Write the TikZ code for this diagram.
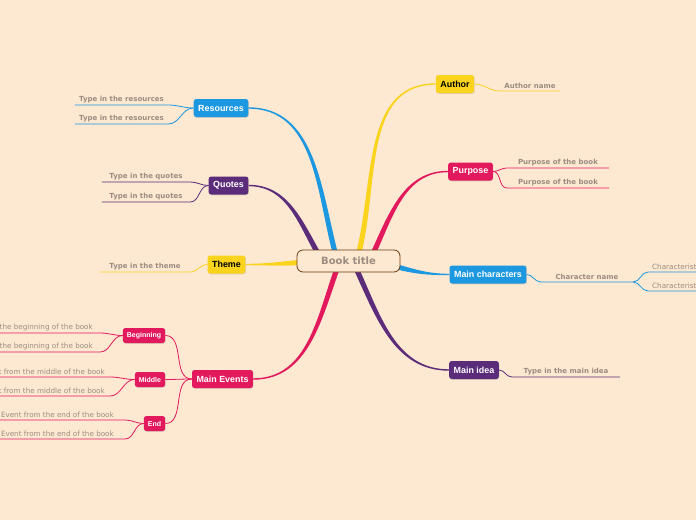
\documentclass[tikz,border=0pt]{standalone}
\usepackage{fontspec}
\setmainfont{Liberation Sans}
\newfontfamily\leaffont{DejaVu Sans}
\usetikzlibrary{positioning,shadows}
\pgfdeclarelayer{background}
\pgfsetlayers{background,main}

\definecolor{bgpeach}{HTML}{FDE8D1}
\definecolor{yellowc}{HTML}{F9D31C}
\definecolor{crimson}{HTML}{E2195D}
\definecolor{bluec}{HTML}{1B98E0}
\definecolor{purplec}{HTML}{5B2C7A}
\definecolor{leafgray}{HTML}{9C8B80}
\definecolor{titlebrown}{HTML}{6B3A0E}

% tapered main branch: colour, start, out angle, end, in angle
\newcommand\branch[5]{%
  \fill[#1] ([shift={(#3+90:2.6pt)}]#2) to[out=#3,in=#5] ([shift={(#5-90:0.7pt)}]#4)
    -- ([shift={(#5+90:0.7pt)}]#4) to[out=#5,in=#3] ([shift={(#3-90:2.6pt)}]#2) -- cycle;}

\begin{document}
\begin{tikzpicture}[x=1pt, y=-1pt,
    topic/.style={
        rounded corners=2.5pt, inner xsep=4.5pt, inner ysep=0pt,
        minimum height=18pt, text=white,
        font=\bfseries\fontsize{8.9}{10}\selectfont,
        drop shadow={opacity=0.25, shadow xshift=0.6pt, shadow yshift=-0.8pt}
    },
    subtopic/.style={topic, minimum height=15pt, inner xsep=4pt,
        font=\bfseries\fontsize{7}{8}\selectfont},
    leaf/.style={anchor=south, inner xsep=0pt, inner ysep=2pt, text=leafgray,
        font=\leaffont\bfseries\fontsize{7}{8}\selectfont},
    event/.style={leaf, font=\leaffont\fontsize{7.2}{8}\selectfont},
    link/.style={line width=0.8pt}
]
    \useasboundingbox (0,0) rectangle (696,520);
    \begin{pgfonlayer}{background}
        \fill[bgpeach] (0,0) rectangle (696,520);
    \end{pgfonlayer}

    \node[draw=titlebrown, fill=bgpeach, rounded corners=6pt, line width=0.8pt,
        minimum width=103pt, minimum height=22pt, text=leafgray,
        font=\leaffont\bfseries\fontsize{10}{11}\selectfont] (title) at (348.5,261) {Book title};

    % topics
    \node[topic, fill=yellowc, text=black] (author) at (455,84) {Author};
    \node[topic, fill=crimson] (purpose) at (470.5,171.5) {Purpose};
    \node[topic, fill=bluec] (chars) at (488,274.5) {Main characters};
    \node[topic, fill=purplec] (idea) at (474,370) {Main idea};
    \node[topic, fill=bluec] (res) at (221,108) {Resources};
    \node[topic, fill=purplec] (quotes) at (228.5,185.5) {Quotes};
    \node[topic, fill=yellowc, text=black] (theme) at (226.5,264.5) {Theme};
    \node[topic, fill=crimson] (events) at (222.5,379) {Main Events};
    \node[subtopic, fill=crimson] (begin) at (144,335.5) {Beginning};
    \node[subtopic, fill=crimson] (middle) at (150,379.5) {Middle};
    \node[subtopic, fill=crimson] (endev) at (154.5,423.5) {End};

    % start points on the title
    \coordinate (sres) at ([xshift=-12.5pt, yshift=5pt]title.center);
    \coordinate (squo) at ([xshift=-28.5pt, yshift=4pt]title.center);
    \coordinate (sthe) at ([xshift=-43.5pt, yshift=-1pt]title.center);
    \coordinate (sev) at ([xshift=-10.5pt, yshift=-5pt]title.center);
    \coordinate (sauth) at ([xshift=9.5pt, yshift=5pt]title.center);
    \coordinate (spur) at ([xshift=23.5pt, yshift=5pt]title.center);
    \coordinate (schar) at ([xshift=41.5pt, yshift=-4pt]title.center);
    \coordinate (sidea) at ([xshift=6.5pt, yshift=-5pt]title.center);

    \begin{pgfonlayer}{background}
        \branch{bluec}{sres}{105}{res.east}{0}
        \branch{purplec}{squo}{120}{quotes.east}{0}
        \branch{yellowc}{sthe}{185}{theme.east}{0}
        \branch{crimson}{sev}{250}{events.east}{0}
        \branch{yellowc}{sauth}{75}{author.west}{180}
        \branch{crimson}{spur}{65}{purpose.west}{180}
        \branch{bluec}{schar}{-15}{chars.west}{180}
        \branch{purplec}{sidea}{-65}{idea.west}{180}
    \end{pgfonlayer}

    % leaves
    \node[leaf, minimum width=93pt] (res1) at (121.5,105) {Type in the resources};
    \node[leaf, minimum width=93pt] (res2) at (121.5,124) {Type in the resources};
    \node[leaf, minimum width=88pt] (quo1) at (146,182) {Type in the quotes};
    \node[leaf, minimum width=88pt] (quo2) at (146,202) {Type in the quotes};
    \node[leaf, minimum width=90pt] (the1) at (145,272) {Type in the theme};
    \node[leaf, minimum width=60pt] (auth1) at (530,91) {Author name};
    \node[leaf, minimum width=102pt] (pur1) at (558,168) {Purpose of the book};
    \node[leaf, minimum width=102pt] (pur2) at (558,188) {Purpose of the book};
    \node[leaf, minimum width=92pt] (char1) at (587,282) {Character name};
    \node[event, anchor=south west, inner xsep=4pt] (cst1) at (648,272) {Characteristic};
    \node[event, anchor=south west, inner xsep=4pt] (cst2) at (648,291) {Characteristic};
    \node[leaf, minimum width=108pt] (idea1) at (566,377) {Type in the main idea};
    \node[event, anchor=south east, inner xsep=7pt] (beg1) at (100,333) {Event from the beginning of the book};
    \node[event, anchor=south east, inner xsep=7pt] (beg2) at (100,352) {Event from the beginning of the book};
    \node[event, anchor=south east, inner xsep=5pt] (mid1) at (110,377) {Event from the middle of the book};
    \node[event, anchor=south east, inner xsep=5pt] (mid2) at (110,396) {Event from the middle of the book};
    \node[event, anchor=south east, inner xsep=11pt] (end1) at (125,420) {Event from the end of the book};
    \node[event, anchor=south east, inner xsep=11pt] (end2) at (125,439) {Event from the end of the book};

    % links to leaves
    \draw[link, bluec] (res.west) to[out=180,in=0] (res1.south east) -- (res1.south west);
    \draw[link, bluec] (res.west) to[out=180,in=0] (res2.south east) -- (res2.south west);
    \draw[link, purplec] (quotes.west) to[out=180,in=0] (quo1.south east) -- (quo1.south west);
    \draw[link, purplec] (quotes.west) to[out=180,in=0] (quo2.south east) -- (quo2.south west);
    \draw[link, yellowc] (theme.west) to[out=180,in=0] (the1.south east) -- (the1.south west);
    \draw[link, yellowc] (author.east) to[out=0,in=180] (auth1.south west) -- (auth1.south east);
    \draw[link, crimson] (purpose.east) to[out=0,in=180] (pur1.south west) -- (pur1.south east);
    \draw[link, crimson] (purpose.east) to[out=0,in=180] (pur2.south west) -- (pur2.south east);
    \draw[link, bluec] (chars.east) to[out=0,in=180] (char1.south west) -- (char1.south east);
    \draw[link, bluec] (char1.south east) to[out=0,in=180] (cst1.south west) -- (cst1.south east);
    \draw[link, bluec] (char1.south east) to[out=0,in=180] (cst2.south west) -- (cst2.south east);
    \draw[link, purplec] (idea.east) to[out=0,in=180] (idea1.south west) -- (idea1.south east);
    \draw[link, crimson] (events.west) to[out=180,in=0] (begin.east);
    \draw[link, crimson] (events.west) to[out=180,in=0] (middle.east);
    \draw[link, crimson] (events.west) to[out=180,in=0] (endev.east);
    \draw[link, crimson] (begin.west) to[out=180,in=0] (beg1.south east) -- (beg1.south west);
    \draw[link, crimson] (begin.west) to[out=180,in=0] (beg2.south east) -- (beg2.south west);
    \draw[link, crimson] (middle.west) to[out=180,in=0] (mid1.south east) -- (mid1.south west);
    \draw[link, crimson] (middle.west) to[out=180,in=0] (mid2.south east) -- (mid2.south west);
    \draw[link, crimson] (endev.west) to[out=180,in=0] (end1.south east) -- (end1.south west);
    \draw[link, crimson] (endev.west) to[out=180,in=0] (end2.south east) -- (end2.south west);
\end{tikzpicture}
\end{document}
